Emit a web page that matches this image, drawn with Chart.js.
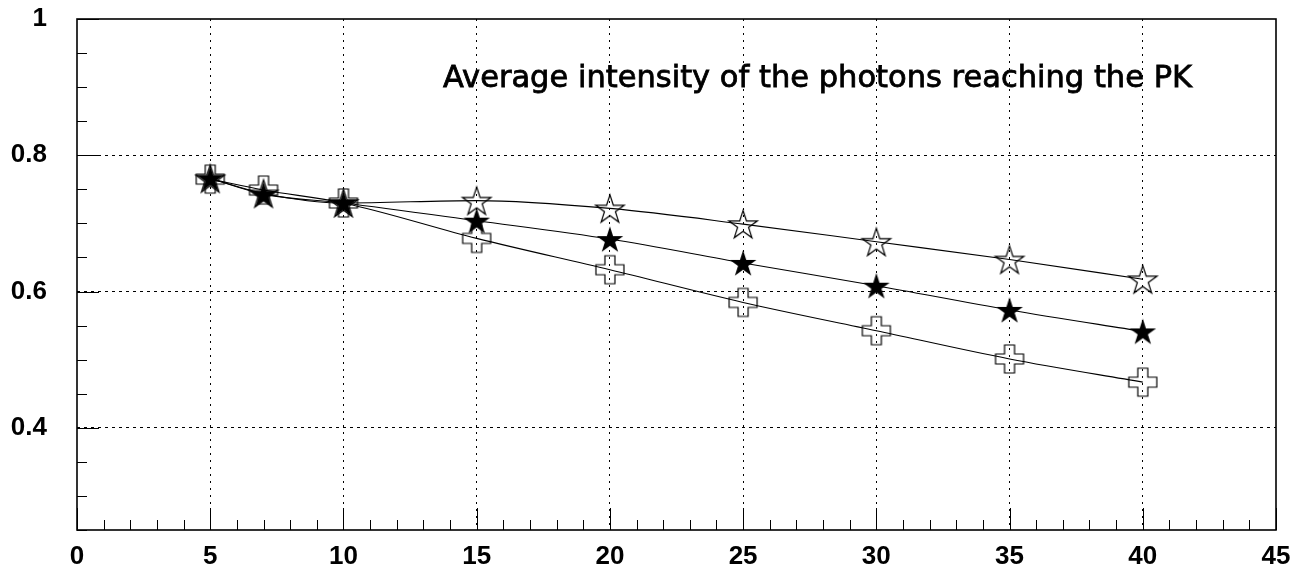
<!DOCTYPE html>
<html>
<head>
<meta charset="utf-8">
<script src="https://cdn.jsdelivr.net/npm/chart.js@4.4.0/dist/chart.umd.min.js"></script>
<style>
  html, body { margin: 0; padding: 0; background: #ffffff; }
  canvas { display: block; }
</style>
</head>
<body>
<canvas id="chart" width="1302" height="571"></canvas>
<script>
// data
const xValues = [5, 7, 10, 15, 20, 25, 30, 35, 40];
const openStarValues = [0.766, 0.744, 0.730, 0.7335, 0.722, 0.699, 0.673, 0.647, 0.618];
const filledStarValues = [0.766, 0.743, 0.730, 0.704, 0.677, 0.642, 0.6085, 0.573, 0.5415];
const crossValues = [0.765, 0.749, 0.730, 0.678, 0.632, 0.584, 0.5425, 0.501, 0.467];
const xTickLabels = [0, 5, 10, 15, 20, 25, 30, 35, 40, 45];
const yTickLabels = [0.4, 0.6, 0.8, 1];
const titleText = 'Average intensity of the photons reaching the PK';

const isMajorX = v => Math.abs(v / 5 - Math.round(v / 5)) < 1e-6;
const isMajorY = v => Math.abs(v * 5 - Math.round(v * 5)) < 1e-6;

// marker images (ROOT style: open star, filled star, open cross)
function makeStar(filled, R) {
    const size = Math.ceil(2 * R + 4);
    const c = document.createElement('canvas');
    c.width = c.height = size;
    const g = c.getContext('2d');
    const cx = size / 2;
    const cy = size / 2 + 0.0955 * R; // centre the bounding box
    const r = R * 0.382;
    g.beginPath();
    for (let i = 0; i < 10; i++) {
        const a = -Math.PI / 2 + i * Math.PI / 5;
        const rad = i % 2 === 0 ? R : r;
        g.lineTo(cx + rad * Math.cos(a), cy + rad * Math.sin(a));
    }
    g.closePath();
    if (filled) {
        g.fillStyle = '#000';
        g.fill();
    } else {
        g.strokeStyle = '#000';
        g.lineWidth = 1.2;
        g.stroke();
    }
    return c;
}

function makeCross(L, a) {
    const size = 2 * L + 4;
    const c = document.createElement('canvas');
    c.width = c.height = size;
    const g = c.getContext('2d');
    const o = size / 2;
    const pts = [[-a, -L], [a, -L], [a, -a], [L, -a], [L, a], [a, a], [a, L], [-a, L], [-a, a], [-L, a], [-L, -a], [-a, -a]];
    g.beginPath();
    pts.forEach(p => g.lineTo(o + p[0], o + p[1]));
    g.closePath();
    g.strokeStyle = '#000';
    g.lineWidth = 1.2;
    g.stroke();
    return c;
}

const openStar = makeStar(false, 15);
const filledStar = makeStar(true, 14);
const openCross = makeCross(14, 5);

const toPoints = vals => xValues.map((x, i) => ({ x: x, y: vals[i] }));

// frame, inward tick marks and the title text
const framePlugin = {
    id: 'frame',
    beforeDatasetsDraw(chart) {
        const { ctx, chartArea: a, scales } = chart;
        ctx.save();
        ctx.strokeStyle = '#000';
        ctx.lineWidth = 1;
        ctx.beginPath();
        scales.x.ticks.forEach(t => {
            const px = Math.round(scales.x.getPixelForValue(t.value)) + 0.5;
            const len = isMajorX(t.value) ? 22 : 10;
            ctx.moveTo(px, a.bottom);
            ctx.lineTo(px, a.bottom - len);
        });
        scales.y.ticks.forEach(t => {
            const py = Math.round(scales.y.getPixelForValue(t.value)) + 0.5;
            const len = isMajorY(t.value) ? 22 : 10;
            ctx.moveTo(a.left, py);
            ctx.lineTo(a.left + len, py);
        });
        ctx.stroke();
        ctx.lineWidth = 1.6;
        ctx.strokeRect(a.left, a.top, a.right - a.left, a.bottom - a.top);
        ctx.restore();
    },
    afterDraw(chart) {
        const ctx = chart.ctx;
        ctx.save();
        let size = 26;
        ctx.font = size + 'px "DejaVu Sans"';
        const w = ctx.measureText(titleText).width;
        size = size * 749 / w;
        ctx.font = size.toFixed(2) + 'px "DejaVu Sans"';
        ctx.fillStyle = '#000';
        ctx.strokeStyle = '#000';
        ctx.lineWidth = 0.8;
        ctx.textBaseline = 'alphabetic';
        ctx.fillText(titleText, 443, 87);
        ctx.strokeText(titleText, 443, 87);
        ctx.restore();
    }
};

const lineDefaults = {
    borderColor: '#000',
    borderWidth: 1.1,
    backgroundColor: 'transparent',
    fill: false,
    cubicInterpolationMode: 'monotone',
    pointRadius: 14,
    pointHoverRadius: 14
};

const labelFont = { family: '"Liberation Sans", Arial, sans-serif', size: 26, weight: 'bold' };

new Chart(document.getElementById('chart'), {
    type: 'line',
    data: {
        datasets: [
            { ...lineDefaults, label: 'open star', data: toPoints(openStarValues), pointStyle: openStar },
            { ...lineDefaults, label: 'cross', data: toPoints(crossValues), pointStyle: openCross },
            { ...lineDefaults, label: 'filled star', data: toPoints(filledStarValues), pointStyle: filledStar }
        ]
    },
    options: {
        responsive: false,
        animation: false,
        devicePixelRatio: 1,
        layout: { padding: { top: 19, right: 26, left: 0, bottom: 0 } },
        plugins: {
            legend: { display: false },
            tooltip: { enabled: false },
            title: { display: false }
        },
        scales: {
            x: {
                type: 'linear',
                min: 0,
                max: 45,
                afterFit(scale) {
                    scale.height = 41;
                    scale.paddingLeft = 0;
                    scale.paddingRight = 0;
                },
                border: { display: false, dash: [2, 5] },
                grid: {
                    drawTicks: false,
                    lineWidth: 1,
                    color: ctx => {
                        const v = ctx.tick ? ctx.tick.value : 0;
                        return (isMajorX(v) && v > 0 && v < 45) ? '#000' : 'rgba(0,0,0,0)';
                    }
                },
                ticks: {
                    stepSize: 1,
                    autoSkip: false,
                    maxRotation: 0,
                    padding: 11,
                    color: '#000',
                    font: labelFont,
                    callback: v => xTickLabels.includes(Math.round(v)) && isMajorX(v) ? String(Math.round(v)) : ''
                }
            },
            y: {
                type: 'linear',
                min: 0.25,
                max: 1,
                afterFit(scale) {
                    scale.width = 77;
                    scale.paddingTop = 0;
                    scale.paddingBottom = 0;
                },
                border: { display: false, dash: [3, 4] },
                grid: {
                    drawTicks: false,
                    lineWidth: 1,
                    color: ctx => {
                        const v = ctx.tick ? ctx.tick.value : 0;
                        return (isMajorY(v) && v > 0.3 && v < 0.99) ? '#000' : 'rgba(0,0,0,0)';
                    }
                },
                ticks: {
                    stepSize: 0.05,
                    autoSkip: false,
                    padding: 30,
                    color: '#000',
                    font: labelFont,
                    callback: v => {
                        const hit = yTickLabels.find(l => Math.abs(l - v) < 1e-6);
                        return hit !== undefined ? String(hit) : '';
                    }
                }
            }
        }
    },
    plugins: [framePlugin]
});
</script>
</body>
</html>
